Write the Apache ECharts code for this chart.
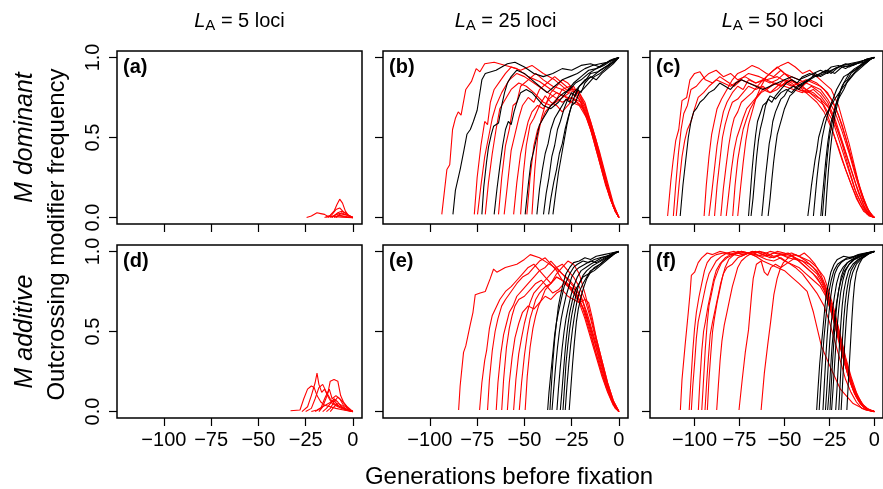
<!DOCTYPE html>
<html>
<head>
<meta charset="utf-8">
<script src="https://cdn.jsdelivr.net/npm/echarts@6/dist/echarts.min.js"></script>
<style>
html, body { margin: 0; padding: 0; background: #fff; }
#main { width: 883px; height: 489px; }
</style>
</head>
<body>
<div id="main"></div>
<script>
// tick values and labels
var xTicks = [-100, -75, -50, -25, 0];
var yTicks = [0, 0.5, 1];
var lociCounts = ['5', '25', '50'];
var panelTags = ['(a)', '(b)', '(c)', '(d)', '(e)', '(f)'];
var rowNames = ['M dominant', 'M additive'];

// (a) M dominant, LA = 5
var redA = [
	[[-24.5,0],[-22,0.01],[-19,0.03],[-17,0.025],[-15,0.02],[-13,0.005],[-11,0.01],[-9,0.005],[-6,0.003],[0,0]],
	[[-14,0],[-12,0.015],[-10,0.04],[-8.5,0.08],[-7,0.115],[-5.5,0.09],[-4,0.04],[-2.5,0.015],[0,0]],
	[[-13,0],[-11,0.02],[-9,0.05],[-7,0.06],[-5,0.035],[-3,0.02],[0,0]],
	[[-12,0],[-10,0.01],[-8,0.03],[-6,0.04],[-4,0.03],[-2,0.01],[0,0]],
	[[-11,0],[-9,0.02],[-7,0.025],[-5,0.02],[-3,0.015],[-1,0.005],[0,0]],
	[[-10,0],[-8,0.01],[-6,0.03],[-4,0.02],[-2,0.01],[0,0]],
	[[-9,0],[-7,0.015],[-5,0.01],[-3,0.005],[0,0]],
	[[-15,0],[-13,0.01],[-11,0.005],[-9,0.02],[-7,0.01],[-4,0.005],[0,0]]
];

// (b) M dominant, LA = 25
var redB = [
	[[-93.7,0.02],[-91,0.3],[-89.5,0.33],[-88,0.55],[-86.5,0.62],[-85,0.66],[-83.5,0.64],[-81,0.8],[-78,0.85],[-75.5,0.93],[-73.5,0.91],[-71,0.96],[-66,0.97],[-60,0.95],[-54,0.93],[-48,0.88],[-42,0.85],[-36,0.8],[-30,0.76],[-24,0.74],[-19,0.68],[-15,0.55],[-11,0.38],[-7,0.2],[-3,0.07],[0,0]],
	[[-76.5,0.02],[-75,0.25],[-73,0.45],[-71,0.6],[-69.5,0.58],[-68,0.72],[-66,0.8],[-63,0.85],[-60,0.9],[-57,0.94],[-52,0.92],[-46,0.95],[-40,0.9],[-34,0.86],[-28,0.8],[-22,0.78],[-18,0.7],[-14,0.55],[-10,0.38],[-6,0.2],[-3,0.08],[0,0]],
	[[-74.8,0.02],[-73,0.2],[-71,0.38],[-69,0.5],[-67,0.62],[-65,0.7],[-62,0.78],[-58,0.86],[-54,0.9],[-50,0.88],[-45,0.84],[-40,0.8],[-35,0.76],[-30,0.72],[-25,0.75],[-20,0.72],[-16,0.6],[-12,0.45],[-8,0.27],[-4,0.1],[0,0]],
	[[-70.7,0.02],[-69,0.22],[-67,0.4],[-65,0.55],[-63,0.68],[-60,0.74],[-57,0.8],[-53,0.84],[-49,0.82],[-45,0.78],[-40,0.72],[-36,0.7],[-31,0.74],[-26,0.78],[-21,0.74],[-17,0.64],[-13,0.5],[-9,0.32],[-5,0.15],[-2,0.04],[0,0]],
	[[-63.7,0.02],[-62,0.25],[-60,0.45],[-58,0.55],[-56,0.7],[-54,0.72],[-52,0.82],[-48,0.86],[-44,0.9],[-40,0.86],[-35,0.82],[-30,0.8],[-26,0.82],[-22,0.76],[-18,0.66],[-14,0.52],[-10,0.35],[-6,0.18],[-3,0.07],[0,0]],
	[[-60.7,0.02],[-59,0.2],[-57,0.42],[-55,0.52],[-53,0.62],[-51,0.7],[-48,0.75],[-45,0.72],[-42,0.8],[-38,0.84],[-34,0.88],[-30,0.84],[-26,0.8],[-22,0.8],[-18,0.72],[-14,0.56],[-10,0.4],[-6,0.22],[-3,0.09],[0,0]],
	[[-55.7,0.02],[-54,0.22],[-52,0.4],[-50,0.5],[-48,0.6],[-46,0.66],[-43,0.7],[-40,0.68],[-37,0.74],[-33,0.78],[-29,0.76],[-25,0.72],[-21,0.7],[-17,0.62],[-13,0.48],[-9,0.3],[-5,0.13],[-2,0.04],[0,0]],
	[[-52,0.02],[-50.5,0.28],[-49,0.45],[-47,0.58],[-45,0.62],[-42,0.7],[-39,0.76],[-36,0.72],[-33,0.7],[-30,0.66],[-27,0.7],[-24,0.74],[-20,0.7],[-16,0.6],[-12,0.42],[-8,0.25],[-4,0.1],[0,0]],
	[[-48.7,0.02],[-47,0.25],[-45,0.45],[-43,0.55],[-41,0.6],[-39,0.66],[-36,0.7],[-33,0.74],[-30,0.8],[-27,0.78],[-24,0.82],[-21,0.76],[-18,0.68],[-15,0.58],[-12,0.45],[-8,0.28],[-5,0.14],[-2,0.04],[0,0]],
	[[-46,0.02],[-44.5,0.3],[-43,0.5],[-41,0.62],[-39,0.7],[-36,0.78],[-33,0.82],[-30,0.86],[-27,0.84],[-24,0.8],[-21,0.78],[-18,0.7],[-15,0.6],[-12,0.48],[-9,0.34],[-6,0.2],[-3,0.07],[0,0]]
];
var blackB = [
	[[-87.8,0.02],[-86.5,0.17],[-84,0.3],[-82,0.42],[-80.4,0.52],[-78.6,0.55],[-77,0.6],[-75,0.67],[-72.5,0.86],[-70.7,0.9],[-65,0.92],[-59,0.96],[-55,0.97],[-50,0.94],[-45,0.9],[-40,0.88],[-35,0.9],[-30,0.93],[-25,0.92],[-20,0.95],[-15,0.96],[-10,0.94],[-5,0.98],[0,1]],
	[[-72.5,0.02],[-71.5,0.19],[-70,0.35],[-69,0.44],[-67.5,0.52],[-66.3,0.57],[-63.7,0.59],[-62,0.7],[-60.5,0.78],[-59,0.84],[-57,0.88],[-54,0.92],[-50,0.9],[-46,0.86],[-42,0.82],[-38,0.78],[-34,0.82],[-30,0.86],[-26,0.88],[-22,0.9],[-18,0.93],[-14,0.95],[-10,0.96],[-6,0.97],[-3,0.99],[0,1]],
	[[-66,0.02],[-64.5,0.18],[-63,0.32],[-61.5,0.45],[-60,0.55],[-58.5,0.6],[-57,0.58],[-55.5,0.66],[-54,0.72],[-52,0.78],[-49,0.8],[-46,0.78],[-43,0.74],[-40,0.7],[-36,0.68],[-32,0.72],[-28,0.78],[-24,0.84],[-20,0.88],[-16,0.92],[-12,0.93],[-8,0.96],[-4,0.98],[0,1]],
	[[-49.6,0.02],[-48,0.2],[-46.5,0.35],[-45,0.42],[-43.5,0.5],[-42,0.58],[-40,0.62],[-38,0.66],[-36,0.7],[-34,0.72],[-32,0.75],[-29,0.78],[-26,0.8],[-23,0.84],[-20,0.86],[-16,0.9],[-12,0.93],[-8,0.95],[-4,0.98],[0,1]],
	[[-43.4,0.02],[-42,0.18],[-40.5,0.3],[-39,0.4],[-37.5,0.46],[-36,0.55],[-34,0.62],[-32,0.66],[-30,0.7],[-28,0.74],[-26,0.72],[-24,0.78],[-21,0.82],[-18,0.86],[-14,0.88],[-10,0.92],[-6,0.95],[-3,0.98],[0,1]],
	[[-39.9,0.02],[-38.5,0.15],[-37,0.25],[-35.5,0.38],[-34,0.45],[-32.5,0.55],[-31,0.6],[-29,0.68],[-27,0.74],[-25,0.78],[-23,0.76],[-21,0.82],[-18,0.85],[-15,0.9],[-11,0.91],[-7,0.94],[-3,0.97],[0,1]],
	[[-37.2,0.02],[-36,0.12],[-34.5,0.22],[-33,0.3],[-31.5,0.4],[-30,0.46],[-28.5,0.55],[-27,0.62],[-25,0.7],[-23,0.72],[-21,0.78],[-19,0.8],[-16,0.84],[-13,0.88],[-10,0.9],[-6,0.94],[-3,0.97],[0,1]],
	[[-34.9,0.02],[-33.5,0.15],[-32,0.28],[-30.5,0.38],[-29,0.48],[-27.5,0.58],[-26,0.66],[-24,0.74],[-22,0.8],[-20,0.78],[-18,0.84],[-15,0.88],[-12,0.86],[-9,0.9],[-6,0.93],[-3,0.96],[0,1]]
];

// (c) M dominant, LA = 50
var redC = [
	[[-115,0.01],[-113.2,0.23],[-112,0.35],[-110.5,0.48],[-108.8,0.55],[-107,0.73],[-104.4,0.75],[-102.6,0.86],[-100,0.9],[-97,0.91],[-94,0.86],[-90,0.84],[-86,0.88],[-82,0.85],[-78,0.82],[-74,0.86],[-70,0.84],[-65,0.82],[-60,0.8],[-55,0.84],[-50,0.82],[-45,0.8],[-40,0.78],[-35,0.82],[-30,0.78],[-26,0.72],[-22,0.62],[-18,0.48],[-14,0.34],[-10,0.2],[-6,0.08],[-3,0.02],[0,0]],
	[[-111.8,0.01],[-110.5,0.2],[-109,0.4],[-107.5,0.55],[-106,0.65],[-104,0.7],[-102,0.8],[-99,0.82],[-96,0.86],[-92,0.9],[-88,0.92],[-84,0.88],[-80,0.9],[-76,0.86],[-72,0.88],[-66,0.84],[-60,0.86],[-54,0.88],[-48,0.84],[-42,0.8],[-36,0.78],[-30,0.74],[-25,0.68],[-21,0.56],[-17,0.44],[-13,0.3],[-9,0.16],[-5,0.05],[-2,0.01],[0,0]],
	[[-110.2,0.01],[-108.5,0.22],[-107,0.38],[-105.5,0.48],[-104,0.55],[-102,0.6],[-100,0.68],[-98,0.75],[-95,0.78],[-92,0.82],[-88,0.86],[-84,0.84],[-80,0.82],[-75,0.86],[-70,0.9],[-64,0.88],[-58,0.85],[-52,0.82],[-46,0.86],[-40,0.82],[-34,0.76],[-28,0.7],[-23,0.6],[-19,0.46],[-15,0.32],[-11,0.18],[-7,0.08],[-3,0.02],[0,0]],
	[[-94.7,0.01],[-93.5,0.2],[-92,0.38],[-90.5,0.52],[-89,0.6],[-87.5,0.68],[-85,0.74],[-82,0.8],[-79,0.86],[-76,0.9],[-72,0.92],[-68,0.95],[-64,0.93],[-60,0.9],[-56,0.88],[-52,0.92],[-48,0.88],[-44,0.84],[-40,0.8],[-36,0.76],[-32,0.72],[-28,0.66],[-24,0.56],[-20,0.44],[-16,0.3],[-12,0.18],[-8,0.08],[-4,0.02],[0,0]],
	[[-92,0.01],[-90.5,0.15],[-89,0.3],[-87.5,0.45],[-86,0.55],[-84,0.66],[-82,0.72],[-79,0.78],[-76,0.82],[-73,0.8],[-70,0.86],[-66,0.84],[-62,0.86],[-58,0.9],[-54,0.94],[-50,0.9],[-46,0.86],[-42,0.82],[-38,0.8],[-34,0.78],[-30,0.74],[-26,0.64],[-22,0.5],[-18,0.36],[-14,0.24],[-10,0.12],[-6,0.04],[-2,0.01],[0,0]],
	[[-88.9,0.01],[-87.5,0.2],[-86,0.35],[-84.5,0.5],[-83,0.58],[-81,0.66],[-79,0.72],[-76,0.74],[-73,0.78],[-70,0.82],[-66,0.8],[-62,0.82],[-58,0.78],[-54,0.82],[-50,0.86],[-46,0.84],[-42,0.8],[-38,0.78],[-34,0.8],[-30,0.76],[-26,0.7],[-22,0.6],[-18,0.46],[-14,0.3],[-10,0.15],[-6,0.06],[-3,0.01],[0,0]],
	[[-85.4,0.01],[-84,0.18],[-82.5,0.32],[-81,0.45],[-79.5,0.55],[-78,0.62],[-76,0.66],[-74,0.72],[-71,0.75],[-68,0.78],[-65,0.82],[-62,0.86],[-58,0.84],[-54,0.86],[-50,0.9],[-46,0.88],[-42,0.86],[-38,0.84],[-34,0.82],[-30,0.8],[-26,0.74],[-22,0.66],[-18,0.54],[-14,0.4],[-10,0.24],[-6,0.1],[-3,0.03],[0,0]],
	[[-82.4,0.01],[-81,0.15],[-79.5,0.3],[-78,0.42],[-76.5,0.5],[-75,0.55],[-73,0.62],[-71,0.68],[-68,0.72],[-65,0.76],[-62,0.8],[-58,0.78],[-54,0.8],[-50,0.84],[-46,0.82],[-42,0.84],[-38,0.86],[-34,0.84],[-30,0.82],[-26,0.78],[-22,0.7],[-18,0.58],[-14,0.42],[-10,0.26],[-6,0.12],[-3,0.04],[0,0]],
	[[-78.8,0.01],[-77.5,0.2],[-76,0.36],[-74.5,0.46],[-73,0.55],[-71,0.62],[-69,0.68],[-66,0.74],[-63,0.78],[-60,0.8],[-56,0.84],[-52,0.82],[-48,0.86],[-44,0.84],[-40,0.82],[-36,0.86],[-32,0.84],[-28,0.8],[-24,0.74],[-20,0.64],[-16,0.5],[-12,0.34],[-8,0.18],[-4,0.06],[-1,0.01],[0,0]],
	[[-76,0.01],[-74.5,0.18],[-73,0.34],[-71.5,0.48],[-70,0.58],[-68,0.66],[-66,0.74],[-63,0.82],[-60,0.88],[-56,0.92],[-52,0.95],[-48,0.97],[-44,0.94],[-40,0.9],[-36,0.92],[-32,0.88],[-28,0.84],[-24,0.8],[-20,0.7],[-17,0.58],[-14,0.46],[-11,0.32],[-8,0.18],[-5,0.08],[-2,0.02],[0,0]]
];
var blackC = [
	[[-108,0.01],[-106.5,0.2],[-105,0.35],[-103.5,0.5],[-102,0.6],[-100.5,0.66],[-99,0.68],[-97,0.72],[-95,0.74],[-92,0.78],[-89,0.8],[-86,0.84],[-83,0.82],[-80,0.8],[-77,0.84],[-74,0.86],[-70,0.84],[-66,0.82],[-62,0.8],[-58,0.82],[-54,0.84],[-50,0.86],[-46,0.88],[-42,0.86],[-38,0.88],[-34,0.9],[-30,0.92],[-26,0.9],[-22,0.93],[-18,0.95],[-14,0.94],[-10,0.96],[-6,0.98],[-3,0.99],[0,1]],
	[[-70,0.01],[-69,0.15],[-68,0.3],[-67,0.42],[-66,0.52],[-65,0.6],[-63.5,0.65],[-62,0.7],[-60,0.72],[-58,0.76],[-55,0.74],[-52,0.78],[-49,0.8],[-46,0.78],[-43,0.82],[-40,0.84],[-37,0.86],[-34,0.88],[-30,0.9],[-26,0.92],[-22,0.9],[-18,0.94],[-14,0.95],[-10,0.96],[-6,0.97],[-3,0.99],[0,1]],
	[[-68.6,0.01],[-67.5,0.12],[-66.5,0.25],[-65.5,0.38],[-64.5,0.48],[-63.5,0.55],[-62,0.62],[-60.5,0.7],[-59,0.74],[-57,0.72],[-55,0.76],[-52,0.8],[-49,0.84],[-46,0.86],[-43,0.84],[-40,0.88],[-36,0.9],[-32,0.88],[-28,0.9],[-24,0.94],[-20,0.95],[-16,0.93],[-12,0.96],[-8,0.97],[-4,0.99],[0,1]],
	[[-62.6,0.01],[-61.5,0.14],[-60.5,0.26],[-59.5,0.36],[-58.5,0.46],[-57.5,0.52],[-56.5,0.6],[-55,0.66],[-53.5,0.7],[-52,0.74],[-50,0.76],[-48,0.8],[-45,0.82],[-42,0.8],[-39,0.84],[-36,0.86],[-33,0.9],[-30,0.88],[-27,0.9],[-24,0.92],[-20,0.94],[-16,0.96],[-12,0.95],[-8,0.97],[-4,0.99],[0,1]],
	[[-59.1,0.01],[-58,0.12],[-57,0.24],[-56,0.35],[-55,0.44],[-54,0.52],[-53,0.56],[-51.5,0.62],[-50,0.68],[-48.5,0.72],[-47,0.76],[-45,0.78],[-42,0.82],[-39,0.84],[-36,0.86],[-33,0.88],[-30,0.9],[-27,0.92],[-24,0.9],[-21,0.93],[-18,0.95],[-14,0.96],[-10,0.97],[-6,0.98],[-3,0.99],[0,1]],
	[[-37,0.01],[-36,0.1],[-35,0.2],[-34,0.28],[-33,0.36],[-32,0.42],[-31,0.5],[-29.5,0.56],[-28,0.62],[-26,0.66],[-24,0.7],[-22,0.74],[-19.5,0.78],[-17,0.82],[-14,0.86],[-11,0.9],[-8,0.93],[-5,0.96],[-2,0.99],[0,1]],
	[[-33.9,0.01],[-33,0.12],[-32,0.24],[-31,0.34],[-30,0.42],[-29,0.5],[-27.5,0.58],[-26,0.64],[-24.5,0.7],[-23,0.74],[-21,0.8],[-19,0.84],[-17,0.88],[-14,0.9],[-11,0.93],[-8,0.95],[-5,0.97],[-2,0.99],[0,1]],
	[[-29.8,0.01],[-29,0.12],[-28,0.24],[-27,0.36],[-26,0.46],[-25,0.54],[-24,0.6],[-22.5,0.66],[-21,0.72],[-19,0.76],[-17,0.8],[-15,0.85],[-13,0.88],[-10,0.92],[-7,0.95],[-4,0.97],[-2,0.99],[0,1]],
	[[-28.9,0.01],[-28,0.14],[-27,0.28],[-26,0.4],[-25,0.5],[-24,0.56],[-23,0.62],[-21.5,0.7],[-20,0.76],[-18,0.82],[-16,0.86],[-14,0.9],[-11,0.92],[-8,0.94],[-5,0.97],[-2,0.99],[0,1]],
	[[-27.3,0.01],[-26.5,0.15],[-25.5,0.3],[-24.5,0.42],[-23.5,0.52],[-22.5,0.6],[-21.5,0.66],[-20,0.74],[-18.5,0.8],[-17,0.84],[-15,0.86],[-13,0.9],[-10,0.93],[-7,0.96],[-4,0.98],[-2,0.99],[0,1]]
];

// (d) M additive, LA = 5
var redD = [
	[[-33,0.005],[-28,0.01],[-26,0.08],[-24,0.14],[-22,0.16],[-20.5,0.15],[-19,0.1],[-17,0.06],[-15,0.04],[-12,0.03],[-9,0.02],[-5,0.01],[0,0]],
	[[-27,0],[-24,0.03],[-22,0.1],[-20,0.18],[-19,0.24],[-18,0.17],[-16.5,0.12],[-15,0.14],[-13,0.09],[-11,0.05],[-8,0.03],[-4,0.01],[0,0]],
	[[-25,0],[-22,0.02],[-20,0.08],[-18,0.15],[-16,0.17],[-14,0.12],[-12,0.08],[-10,0.05],[-7,0.03],[-3,0.01],[0,0]],
	[[-20,0],[-17,0.02],[-15,0.08],[-13,0.13],[-12,0.19],[-10,0.2],[-9,0.2],[-8,0.19],[-6.5,0.1],[-5,0.06],[-3,0.03],[0,0]],
	[[-18,0],[-16,0.03],[-14,0.09],[-12.5,0.14],[-11,0.08],[-9,0.1],[-7,0.08],[-5,0.04],[-2,0.015],[0,0]],
	[[-16,0],[-14,0.02],[-12,0.05],[-10,0.08],[-8,0.06],[-6,0.03],[-3,0.01],[0,0]],
	[[-14,0],[-12,0.02],[-10,0.06],[-8,0.09],[-6,0.07],[-4,0.04],[-2,0.01],[0,0]],
	[[-22,0],[-19,0.01],[-16,0.03],[-13,0.05],[-10,0.07],[-8,0.04],[-5,0.02],[0,0]],
	[[-12,0],[-10,0.03],[-8,0.05],[-6,0.04],[-4,0.02],[0,0]]
];

// (e) M additive, LA = 25
var redE = [
	[[-84.8,0.01],[-84,0.16],[-82.2,0.37],[-81,0.41],[-80.4,0.42],[-78.7,0.54],[-77.2,0.62],[-76,0.73],[-73.4,0.74],[-70.7,0.75],[-68.1,0.83],[-66.3,0.89],[-64.6,0.87],[-60.1,0.9],[-54,0.92],[-50,0.95],[-46.9,0.98],[-42,0.96],[-38,0.93],[-34,0.9],[-30,0.86],[-26,0.82],[-22,0.76],[-19,0.68],[-16,0.56],[-13,0.44],[-10,0.3],[-7,0.18],[-4,0.08],[-2,0.03],[0,0]],
	[[-73.7,0.01],[-72.5,0.18],[-71,0.32],[-70,0.38],[-68.5,0.52],[-67,0.6],[-65,0.65],[-63,0.7],[-60,0.75],[-57,0.78],[-54,0.82],[-51,0.86],[-48,0.9],[-45,0.92],[-42,0.88],[-39,0.84],[-36,0.8],[-33,0.84],[-30,0.82],[-26,0.78],[-22,0.72],[-19,0.64],[-16,0.52],[-13,0.4],[-10,0.28],[-7,0.16],[-4,0.07],[-2,0.02],[0,0]],
	[[-69.5,0.01],[-68.5,0.2],[-67,0.38],[-65.5,0.5],[-64,0.58],[-62,0.66],[-60,0.7],[-57,0.75],[-54,0.8],[-51,0.84],[-48,0.86],[-45,0.9],[-42,0.94],[-39,0.96],[-36,0.92],[-33,0.88],[-30,0.82],[-27,0.8],[-24,0.74],[-21,0.68],[-18,0.58],[-15,0.46],[-12,0.34],[-9,0.22],[-6,0.12],[-3,0.04],[0,0]],
	[[-64.9,0.01],[-64,0.18],[-62.5,0.36],[-61,0.48],[-59.5,0.55],[-58,0.62],[-56,0.66],[-54,0.72],[-51,0.76],[-48,0.8],[-45,0.84],[-42,0.88],[-39,0.9],[-36,0.94],[-33,0.9],[-30,0.86],[-27,0.82],[-24,0.78],[-21,0.7],[-18,0.62],[-15,0.5],[-12,0.36],[-9,0.24],[-6,0.14],[-3,0.05],[0,0]],
	[[-62,0.01],[-61,0.2],[-59.5,0.4],[-58,0.52],[-56.5,0.6],[-55,0.66],[-53,0.7],[-50,0.72],[-47,0.76],[-44,0.8],[-41,0.82],[-38,0.78],[-35,0.74],[-32,0.76],[-29,0.8],[-26,0.78],[-23,0.76],[-20,0.72],[-17,0.62],[-14,0.5],[-11,0.38],[-8,0.24],[-5,0.12],[-2,0.03],[0,0]],
	[[-59,0.01],[-58,0.18],[-56.5,0.34],[-55,0.46],[-53,0.55],[-51,0.62],[-48,0.66],[-45,0.64],[-42,0.68],[-39,0.72],[-36,0.7],[-33,0.74],[-30,0.76],[-27,0.72],[-24,0.7],[-21,0.68],[-18,0.7],[-16,0.68],[-14,0.58],[-12,0.46],[-9,0.32],[-6,0.18],[-3,0.07],[0,0]],
	[[-55.7,0.01],[-54.5,0.2],[-53,0.36],[-51.5,0.46],[-50,0.55],[-48.5,0.62],[-47,0.68],[-45,0.74],[-42,0.78],[-39,0.82],[-36,0.86],[-33,0.9],[-30,0.92],[-27,0.88],[-24,0.84],[-21,0.78],[-18,0.7],[-15,0.58],[-12,0.44],[-9,0.3],[-6,0.16],[-3,0.06],[0,0]],
	[[-52.7,0.01],[-51.5,0.18],[-50,0.35],[-48.5,0.48],[-47,0.58],[-45.5,0.64],[-44,0.7],[-42,0.74],[-39,0.78],[-36,0.8],[-33,0.84],[-30,0.82],[-27,0.78],[-24,0.74],[-21,0.7],[-18,0.62],[-15,0.52],[-12,0.4],[-9,0.28],[-6,0.16],[-3,0.06],[0,0]],
	[[-49.6,0.01],[-48.5,0.22],[-47,0.4],[-45.5,0.52],[-44,0.6],[-42.5,0.66],[-41,0.7],[-39,0.76],[-36,0.8],[-33,0.86],[-30,0.9],[-27,0.94],[-24,0.92],[-21,0.86],[-18,0.74],[-15,0.6],[-12,0.46],[-9,0.32],[-6,0.18],[-3,0.07],[0,0]]
];
var blackE = [
	[[-37.7,0.01],[-37,0.12],[-36,0.24],[-35,0.36],[-34,0.48],[-33,0.56],[-32,0.62],[-30.5,0.7],[-29,0.78],[-27.5,0.82],[-26,0.86],[-24,0.9],[-22,0.92],[-19,0.94],[-16,0.93],[-13,0.95],[-10,0.96],[-7,0.97],[-4,0.98],[-2,0.99],[0,1]],
	[[-36.5,0.01],[-35.8,0.15],[-35,0.3],[-34,0.45],[-33,0.56],[-32,0.66],[-31,0.72],[-29.5,0.8],[-28,0.86],[-26,0.9],[-24,0.93],[-21,0.94],[-18,0.96],[-15,0.95],[-12,0.97],[-8,0.98],[-4,0.99],[0,1]],
	[[-35.4,0.01],[-34.5,0.14],[-33.5,0.28],[-32.5,0.4],[-31.5,0.5],[-30.5,0.58],[-29.5,0.64],[-28,0.72],[-26.5,0.78],[-25,0.84],[-23,0.88],[-21,0.9],[-18,0.92],[-15,0.94],[-12,0.93],[-9,0.95],[-6,0.97],[-3,0.99],[0,1]],
	[[-32.8,0.01],[-32,0.14],[-31,0.28],[-30,0.4],[-29,0.5],[-28,0.58],[-27,0.64],[-25.5,0.72],[-24,0.78],[-22,0.84],[-20,0.88],[-17.5,0.9],[-15,0.92],[-12,0.94],[-9,0.96],[-6,0.97],[-3,0.99],[0,1]],
	[[-31,0.01],[-30.2,0.12],[-29.4,0.24],[-28.6,0.36],[-27.8,0.46],[-27,0.54],[-26,0.62],[-24.5,0.7],[-23,0.76],[-21,0.8],[-19,0.84],[-16,0.86],[-13,0.88],[-10,0.91],[-7,0.94],[-4,0.97],[-2,0.99],[0,1]],
	[[-29.6,0.01],[-28.8,0.15],[-28,0.3],[-27,0.42],[-26,0.52],[-25,0.6],[-24,0.66],[-22.5,0.74],[-21,0.8],[-19,0.85],[-17,0.88],[-14,0.91],[-11,0.93],[-8,0.95],[-5,0.97],[-2,0.99],[0,1]],
	[[-28.4,0.01],[-27.5,0.16],[-26.5,0.3],[-25.5,0.42],[-24.5,0.52],[-23.5,0.6],[-22,0.7],[-20.5,0.76],[-19,0.8],[-17,0.84],[-15,0.88],[-12,0.9],[-9,0.93],[-6,0.96],[-3,0.98],[0,1]],
	[[-26.3,0.01],[-25.5,0.14],[-24.5,0.3],[-23.5,0.44],[-22.5,0.56],[-21.5,0.64],[-20,0.72],[-18.5,0.78],[-17,0.83],[-15,0.87],[-13,0.9],[-10,0.92],[-7,0.95],[-4,0.97],[-2,0.99],[0,1]]
];

// (f) M additive, LA = 50
var redF = [
	[[-107.9,0.01],[-107,0.2],[-105.3,0.41],[-103.5,0.62],[-102.5,0.74],[-101.8,0.85],[-100,0.87],[-98,0.93],[-96,0.96],[-93,0.99],[-90,0.98],[-86,1],[-82,0.99],[-78,1],[-74,0.98],[-70,0.99],[-66,1],[-62,0.98],[-58,0.96],[-54,0.97],[-50,0.94],[-46,0.92],[-42,0.9],[-38,0.86],[-34,0.82],[-30,0.78],[-27,0.72],[-24,0.62],[-21,0.5],[-18,0.38],[-15,0.26],[-12,0.16],[-9,0.08],[-6,0.03],[-3,0.01],[0,0]],
	[[-103,0.01],[-102,0.2],[-101,0.38],[-100,0.52],[-99,0.62],[-97.5,0.72],[-96,0.8],[-94.5,0.88],[-93,0.93],[-91,0.96],[-88,0.98],[-84,0.99],[-80,0.98],[-76,1],[-72,0.99],[-68,0.98],[-64,1],[-60,0.99],[-56,0.97],[-52,0.98],[-48,0.96],[-44,0.95],[-40,0.94],[-36,0.92],[-32,0.88],[-28,0.8],[-25,0.7],[-22,0.58],[-19,0.44],[-16,0.3],[-13,0.18],[-10,0.1],[-7,0.04],[-4,0.01],[0,0]],
	[[-101.8,0.01],[-101,0.16],[-100,0.3],[-99,0.46],[-98,0.56],[-96.5,0.64],[-95,0.72],[-93.5,0.8],[-92,0.86],[-90,0.9],[-88,0.94],[-85,0.97],[-82,0.99],[-78,0.98],[-74,1],[-70,0.99],[-66,0.97],[-62,0.98],[-58,1],[-54,0.99],[-50,0.98],[-46,0.99],[-42,0.97],[-38,0.94],[-34,0.9],[-30,0.84],[-27,0.76],[-24,0.66],[-21,0.54],[-18,0.4],[-15,0.28],[-12,0.17],[-9,0.09],[-6,0.04],[-3,0.01],[0,0]],
	[[-97.9,0.01],[-97,0.2],[-96,0.38],[-95,0.5],[-94,0.56],[-92.5,0.66],[-91,0.74],[-89.5,0.82],[-88,0.88],[-86,0.92],[-83,0.96],[-80,0.98],[-76,0.99],[-72,0.98],[-68,1],[-64,0.99],[-60,0.97],[-56,0.99],[-52,0.98],[-48,0.97],[-44,0.98],[-40,0.96],[-36,0.94],[-32,0.9],[-28,0.84],[-25,0.74],[-22,0.62],[-19,0.48],[-16,0.34],[-13,0.22],[-10,0.12],[-7,0.05],[-4,0.02],[0,0]],
	[[-96,0.01],[-95,0.2],[-94,0.4],[-93,0.55],[-92,0.66],[-90.5,0.74],[-89,0.82],[-87,0.88],[-85,0.93],[-82,0.96],[-78,0.98],[-74,0.97],[-70,0.99],[-66,0.97],[-62,0.94],[-58,0.92],[-54,0.9],[-50,0.88],[-46,0.84],[-42,0.8],[-37.4,0.75],[-33.9,0.62],[-29.5,0.41],[-24.2,0.27],[-18.9,0.14],[-11.8,0.05],[-4.8,0.01],[0,0]],
	[[-94.2,0.01],[-93.3,0.18],[-92.3,0.34],[-91.3,0.48],[-90,0.56],[-88.5,0.64],[-87,0.72],[-85.5,0.8],[-84,0.86],[-82,0.9],[-79,0.92],[-76,0.96],[-72,0.98],[-68,1],[-64,0.97],[-60,0.95],[-56,0.94],[-52,0.96],[-48,0.93],[-44,0.9],[-40,0.86],[-36,0.8],[-32,0.74],[-28,0.66],[-25,0.56],[-22,0.44],[-19,0.32],[-16,0.2],[-13,0.12],[-10,0.06],[-7,0.02],[-4,0.01],[0,0]],
	[[-92.9,0.01],[-92,0.2],[-91,0.36],[-90,0.5],[-89,0.58],[-87.5,0.68],[-86,0.76],[-84.5,0.84],[-83,0.9],[-81,0.95],[-78,0.98],[-74,1],[-70,0.99],[-66,0.98],[-62,0.97],[-58,0.98],[-54,1],[-50,0.99],[-46,0.97],[-42,0.94],[-38,0.9],[-34,0.86],[-30,0.8],[-27,0.74],[-24,0.64],[-21,0.52],[-18,0.38],[-15,0.24],[-12,0.14],[-9,0.07],[-6,0.03],[-3,0.01],[0,0]],
	[[-87.7,0.01],[-86.8,0.16],[-85.8,0.32],[-84.8,0.44],[-83.5,0.54],[-82,0.62],[-80.5,0.7],[-79,0.78],[-77.5,0.84],[-76,0.9],[-74,0.94],[-71,0.97],[-68,0.99],[-64,1],[-60,0.98],[-56,0.96],[-52,0.98],[-48,0.99],[-44,0.96],[-40,0.92],[-36,0.88],[-32,0.84],[-28,0.76],[-25,0.66],[-22,0.54],[-19,0.4],[-16,0.28],[-13,0.17],[-10,0.09],[-7,0.04],[-4,0.01],[0,0]],
	[[-75.3,0.01],[-73.5,0.2],[-71.8,0.37],[-70,0.51],[-68.3,0.73],[-67.4,0.83],[-65.6,0.92],[-63,0.94],[-61.2,0.87],[-59.4,0.85],[-57.5,0.9],[-55,0.92],[-52,0.9],[-48,0.93],[-44,0.96],[-40,0.94],[-36,0.9],[-32,0.86],[-29,0.8],[-26,0.72],[-23,0.6],[-20,0.46],[-17,0.32],[-14,0.2],[-11,0.11],[-8,0.05],[-5,0.02],[0,0]],
	[[-63,0.01],[-61.2,0.24],[-59.4,0.41],[-57.7,0.56],[-55.9,0.73],[-54.1,0.83],[-52.4,0.89],[-50.6,0.93],[-48,0.96],[-45,0.98],[-42,0.97],[-39,0.99],[-36,0.96],[-33,0.92],[-30,0.86],[-27,0.78],[-24,0.68],[-21,0.56],[-18,0.42],[-15,0.28],[-12,0.16],[-9,0.08],[-6,0.03],[-3,0.01],[0,0]]
];
var blackF = [
	[[-32.1,0.01],[-31.3,0.15],[-30.4,0.3],[-29.5,0.41],[-28.6,0.52],[-27.7,0.63],[-26.8,0.73],[-25.5,0.8],[-24.2,0.87],[-22.4,0.92],[-20.6,0.95],[-17.1,0.97],[-13,0.96],[-9,0.98],[-5,0.99],[0,1]],
	[[-30.7,0.01],[-29.9,0.16],[-29,0.32],[-28.1,0.45],[-27.2,0.56],[-26.3,0.66],[-25.4,0.74],[-24,0.82],[-22.5,0.88],[-20.5,0.92],[-18,0.94],[-15,0.96],[-11,0.97],[-7,0.98],[-3,0.99],[0,1]],
	[[-28.6,0.01],[-27.8,0.18],[-27,0.34],[-26.2,0.48],[-25.4,0.6],[-24.5,0.7],[-23.5,0.78],[-22,0.86],[-20.5,0.9],[-18.5,0.93],[-16,0.95],[-12,0.96],[-8,0.98],[-4,0.99],[0,1]],
	[[-27.2,0.01],[-26.4,0.15],[-25.6,0.3],[-24.8,0.44],[-24,0.55],[-23.2,0.64],[-22.2,0.72],[-21,0.8],[-19.5,0.86],[-17.5,0.9],[-15,0.93],[-12,0.95],[-8,0.97],[-4,0.99],[0,1]],
	[[-26,0.01],[-25.2,0.12],[-24.4,0.26],[-23.6,0.4],[-22.8,0.5],[-22,0.6],[-21,0.68],[-19.8,0.76],[-18.5,0.82],[-16.5,0.88],[-14,0.92],[-11,0.95],[-7,0.97],[-3,0.99],[0,1]],
	[[-24.7,0.01],[-24,0.16],[-23.2,0.32],[-22.4,0.46],[-21.6,0.58],[-20.8,0.68],[-19.8,0.76],[-18.5,0.84],[-17,0.89],[-15,0.93],[-12.5,0.95],[-9,0.97],[-5,0.98],[-2,0.99],[0,1]],
	[[-23.8,0.01],[-23,0.14],[-22.2,0.28],[-21.4,0.42],[-20.6,0.54],[-19.8,0.64],[-18.8,0.74],[-17.5,0.82],[-16,0.88],[-14,0.92],[-11.5,0.95],[-8,0.97],[-4,0.99],[0,1]],
	[[-21.5,0.01],[-20.8,0.14],[-20.1,0.28],[-19.4,0.42],[-18.7,0.54],[-17.9,0.66],[-17,0.75],[-15.8,0.82],[-14.3,0.88],[-12,0.92],[-9,0.95],[-6,0.97],[-3,0.99],[0,1]],
	[[-19.8,0.01],[-19.1,0.16],[-18.4,0.32],[-17.7,0.46],[-17,0.58],[-16.2,0.68],[-15.3,0.76],[-14.2,0.83],[-13,0.88],[-11,0.92],[-8.5,0.95],[-5.5,0.97],[-2.5,0.99],[0,1]],
	[[-18.5,0.01],[-17.8,0.15],[-17.1,0.3],[-16.4,0.44],[-15.7,0.56],[-15,0.66],[-14.2,0.74],[-13.2,0.82],[-12,0.87],[-10,0.92],[-7.5,0.95],[-5,0.97],[-2.5,0.99],[0,1]],
	[[-15.3,0.01],[-14.6,0.16],[-13.9,0.3],[-13.2,0.44],[-12.5,0.58],[-11.8,0.7],[-11,0.8],[-10,0.87],[-8.5,0.92],[-6.5,0.96],[-4,0.98],[-2,0.99],[0,1]]
];

var panelRed = [redA, redB, redC, redD, redE, redF];
var panelBlack = [[], blackB, blackC, [], blackE, blackF];

var FONT = "'Liberation Sans', Arial, Helvetica, sans-serif";
var colLeft = [117, 383, 650];
var rowTop = [51, 245];
var boxW = 245, boxH = 173;

function fmtX(v){
	return v < 0 ? '\u2212' + Math.abs(v) : String(v);
}

var grids = [], xAxes = [], yAxes = [], series = [], graphics = [];
for (var p = 0; p < 6; p++){
	var row = Math.floor(p / 3), col = p % 3;
	grids.push({
		left: colLeft[col], top: rowTop[row], width: boxW, height: boxH,
		show: true, borderColor: '#000', borderWidth: 1.5, backgroundColor: 'transparent'
	});
	xAxes.push({
		type: 'value', gridIndex: p, min: -124.8, max: 4.8, position: 'bottom',
		axisLine: {show: false, onZero: false},
		splitLine: {show: false},
		axisTick: {show: true, customValues: xTicks, length: 8, lineStyle: {color: '#000', width: 1.2}},
		axisLabel: {show: row == 1, customValues: xTicks, formatter: fmtX, color: '#000',
			fontSize: 20, fontFamily: FONT, margin: 12}
	});
	yAxes.push({
		type: 'value', gridIndex: p, min: -0.04, max: 1.04, position: 'left',
		axisLine: {show: false, onZero: false},
		splitLine: {show: false},
		axisTick: {show: true, customValues: yTicks, length: 8, lineStyle: {color: '#000', width: 1.2}},
		axisLabel: {show: col == 0, customValues: yTicks, rotate: 90, color: '#000',
			fontSize: 20, fontFamily: FONT, margin: 14,
			formatter: function(v){ return v.toFixed(1); }}
	});
	var groups = [[panelRed[p], '#ff0000'], [panelBlack[p], '#000000']];
	for (var g = 0; g < groups.length; g++){
		var traces = groups[g][0];
		for (var t = 0; t < traces.length; t++){
			series.push({
				type: 'line', xAxisIndex: p, yAxisIndex: p,
				data: traces[t], symbol: 'none', silent: true,
				lineStyle: {color: groups[g][1], width: 1.1}
			});
		}
	}
	// panel tag
	graphics.push({
		type: 'text', x: colLeft[col] + 6, y: rowTop[row] + 16,
		style: {text: panelTags[p], font: 'bold 20px ' + FONT, fill: '#000', textVerticalAlign: 'middle'}
	});
}

// column titles
for (var c = 0; c < 3; c++){
	graphics.push({
		type: 'text', x: colLeft[c] + boxW / 2, y: 21,
		style: {
			text: '{i|L}{s|A}{n| = ' + lociCounts[c] + ' loci}',
			textAlign: 'center', textVerticalAlign: 'middle',
			rich: {
				i: {fontFamily: FONT, fontSize: 20, fontStyle: 'italic', fill: '#000'},
				s: {fontFamily: FONT, fontSize: 15, fill: '#000', padding: [10, 0, 0, 0]},
				n: {fontFamily: FONT, fontSize: 20, fill: '#000'}
			}
		}
	});
}

// row names and axis titles
for (var r = 0; r < 2; r++){
	graphics.push({
		type: 'text', x: 25, y: rowTop[r] + boxH / 2, rotation: Math.PI / 2,
		style: {text: rowNames[r], font: 'italic 25px ' + FONT, fill: '#000',
			textAlign: 'center', textVerticalAlign: 'middle'}
	});
}
graphics.push({
	type: 'text', x: 57, y: (rowTop[0] + rowTop[1] + boxH) / 2, rotation: Math.PI / 2,
	style: {text: 'Outcrossing modifier frequency', font: '24px ' + FONT, fill: '#000',
		textAlign: 'center', textVerticalAlign: 'middle'}
});
graphics.push({
	type: 'text', x: 509, y: 477,
	style: {text: 'Generations before fixation', font: '24px ' + FONT, fill: '#000',
		textAlign: 'center', textVerticalAlign: 'middle'}
});

var chart = echarts.init(document.getElementById('main'), null, {renderer: 'canvas'});
chart.setOption({
	animation: false,
	backgroundColor: '#fff',
	grid: grids,
	xAxis: xAxes,
	yAxis: yAxes,
	series: series,
	graphic: graphics
});
</script>
</body>
</html>
